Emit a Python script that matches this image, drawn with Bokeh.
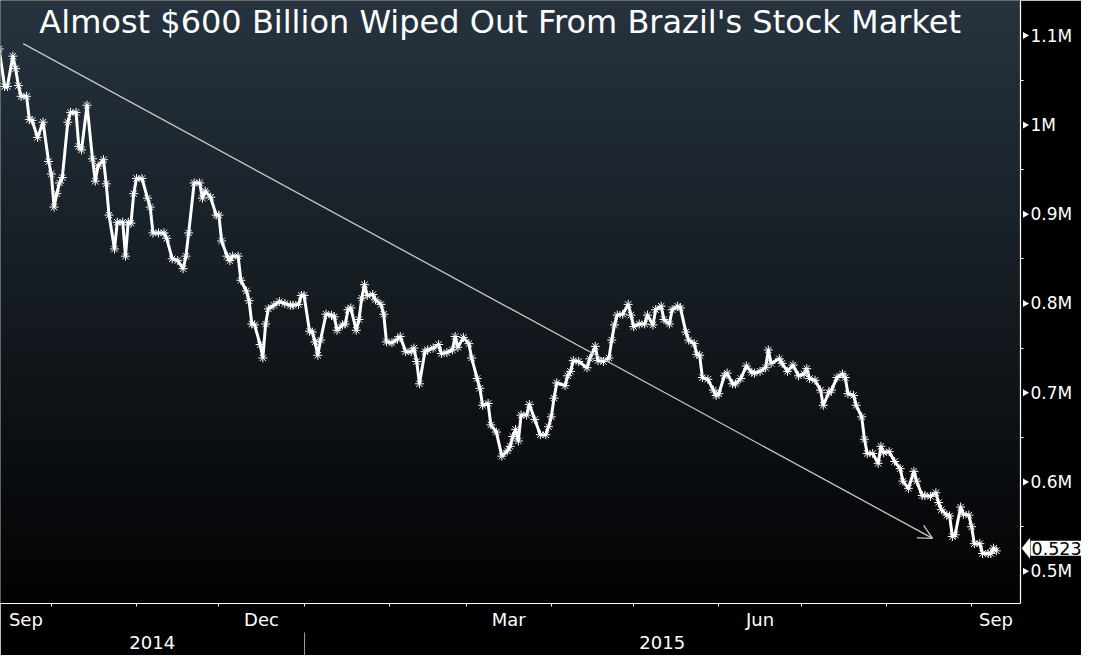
import numpy as np
import pandas as pd
from bokeh.plotting import figure
from bokeh.layouts import row
from bokeh.models import (Range1d, LinearAxis, FixedTicker, DatetimeTickFormatter,
                          CustomJSTickFormatter, Label, Arrow, OpenHead, LinearColorMapper)
from bokeh.embed import file_html
from bokeh.resources import INLINE

# ---------------- data ----------------
dates = [
    "2014-09-12", "2014-09-14", "2014-09-15", "2014-09-17", "2014-09-18", "2014-09-19",
    "2014-09-20", "2014-09-22", "2014-09-23", "2014-09-24", "2014-09-26", "2014-09-28",
    "2014-09-30", "2014-10-01", "2014-10-02", "2014-10-03", "2014-10-04", "2014-10-05",
    "2014-10-07", "2014-10-08", "2014-10-10", "2014-10-11", "2014-10-12", "2014-10-14",
    "2014-10-16", "2014-10-17", "2014-10-18", "2014-10-20", "2014-10-21", "2014-10-22",
    "2014-10-24", "2014-10-25", "2014-10-27", "2014-10-28", "2014-10-29", "2014-10-30",
    "2014-10-31", "2014-11-01", "2014-11-03", "2014-11-05", "2014-11-06", "2014-11-07",
    "2014-11-09", "2014-11-11", "2014-11-12", "2014-11-14", "2014-11-16", "2014-11-18",
    "2014-11-19", "2014-11-20", "2014-11-22", "2014-11-24", "2014-11-25", "2014-11-26",
    "2014-11-28", "2014-11-30", "2014-12-01", "2014-12-02", "2014-12-04", "2014-12-05",
    "2014-12-06", "2014-12-08", "2014-12-09", "2014-12-11", "2014-12-12", "2014-12-13",
    "2014-12-14",
    "2014-12-16", "2014-12-17", "2014-12-18", "2014-12-19", "2014-12-21", "2014-12-23",
    "2014-12-25", "2014-12-27", "2014-12-28", "2014-12-30", "2014-12-31", "2015-01-01",
    "2015-01-03", "2015-01-04", "2015-01-05", "2015-01-06", "2015-01-07", "2015-01-09",
    "2015-01-11", "2015-01-12", "2015-01-13", "2015-01-15", "2015-01-16", "2015-01-17",
    "2015-01-18", "2015-01-20", "2015-01-21", "2015-01-22", "2015-01-23", "2015-01-24",
    "2015-01-26", "2015-01-27", "2015-01-29", "2015-01-30", "2015-01-31", "2015-02-02",
    "2015-02-04", "2015-02-05", "2015-02-07", "2015-02-09", "2015-02-10", "2015-02-11",
    "2015-02-12", "2015-02-14", "2015-02-15", "2015-02-17", "2015-02-19", "2015-02-20",
    "2015-02-22", "2015-02-24", "2015-02-25", "2015-02-26", "2015-02-28", "2015-03-02",
    "2015-03-03", "2015-03-05", "2015-03-06", "2015-03-07", "2015-03-09", "2015-03-10",
    "2015-03-12", "2015-03-14",
    "2015-03-16", "2015-03-17", "2015-03-18", "2015-03-19", "2015-03-20", "2015-03-21",
    "2015-03-23", "2015-03-24", "2015-03-26", "2015-03-28", "2015-03-30", "2015-03-31",
    "2015-04-01", "2015-04-02", "2015-04-03", "2015-04-06", "2015-04-07", "2015-04-08",
    "2015-04-09", "2015-04-11", "2015-04-14", "2015-04-15", "2015-04-17", "2015-04-18",
    "2015-04-20", "2015-04-22", "2015-04-23", "2015-04-24", "2015-04-25", "2015-04-27",
    "2015-04-29", "2015-04-30", "2015-05-01", "2015-05-03", "2015-05-05", "2015-05-06",
    "2015-05-08", "2015-05-09", "2015-05-11", "2015-05-12", "2015-05-14", "2015-05-15",
    "2015-05-17", "2015-05-18", "2015-05-20", "2015-05-21", "2015-05-23", "2015-05-24",
    "2015-05-25", "2015-05-26", "2015-05-28", "2015-05-30", "2015-05-31", "2015-06-01",
    "2015-06-03", "2015-06-04", "2015-06-06", "2015-06-07", "2015-06-09", "2015-06-11",
    "2015-06-13", "2015-06-14", "2015-06-16", "2015-06-18", "2015-06-19",
    "2015-06-20", "2015-06-23", "2015-06-24", "2015-06-26", "2015-06-28", "2015-06-30",
    "2015-07-02", "2015-07-03", "2015-07-04", "2015-07-06", "2015-07-08", "2015-07-09",
    "2015-07-11", "2015-07-12", "2015-07-14", "2015-07-16", "2015-07-17", "2015-07-18",
    "2015-07-20", "2015-07-21", "2015-07-23", "2015-07-24", "2015-07-25", "2015-07-27",
    "2015-07-29", "2015-07-30", "2015-07-31", "2015-08-02", "2015-08-04", "2015-08-06",
    "2015-08-07", "2015-08-09", "2015-08-11", "2015-08-12", "2015-08-14", "2015-08-15",
    "2015-08-17", "2015-08-19", "2015-08-20", "2015-08-21", "2015-08-23", "2015-08-24",
    "2015-08-25", "2015-08-26", "2015-08-28", "2015-08-29", "2015-08-31", "2015-09-01",
    "2015-09-02", "2015-09-04", "2015-09-05", "2015-09-07", "2015-09-08", "2015-09-09",
    "2015-09-10",
]

market_cap_m = [
    1.085, 1.043, 1.043, 1.077, 1.063, 1.044,
    1.032, 1.032, 1.006, 1.005, 0.986, 1.003,
    0.959, 0.945, 0.908, 0.923, 0.935, 0.941,
    1.003, 1.014, 1.014, 0.976, 0.972, 1.022,
    0.962, 0.937, 0.954, 0.961, 0.934, 0.899,
    0.861, 0.891, 0.891, 0.853, 0.891, 0.890,
    0.923, 0.940, 0.940, 0.918, 0.908, 0.879,
    0.879, 0.879, 0.873, 0.850, 0.848, 0.839,
    0.853, 0.879, 0.935, 0.935, 0.918, 0.926,
    0.919, 0.899, 0.899, 0.870, 0.853, 0.848,
    0.853, 0.853, 0.826, 0.814, 0.803, 0.777,
    0.776,
    0.754, 0.739, 0.777, 0.794, 0.798, 0.802,
    0.800, 0.798, 0.798, 0.799, 0.809, 0.809,
    0.769, 0.768, 0.757, 0.742, 0.759, 0.788,
    0.787, 0.785, 0.770, 0.776, 0.777, 0.793,
    0.795, 0.770, 0.782, 0.806, 0.821, 0.809,
    0.810, 0.804, 0.799, 0.788, 0.757, 0.756,
    0.760, 0.763, 0.746, 0.746, 0.750, 0.735,
    0.710, 0.746, 0.748, 0.750, 0.754, 0.744,
    0.745, 0.748, 0.763, 0.751, 0.762, 0.755,
    0.739, 0.716, 0.705, 0.686, 0.688, 0.664,
    0.656, 0.629,
    0.635, 0.640, 0.651, 0.659, 0.646, 0.675,
    0.675, 0.687, 0.670, 0.653, 0.653, 0.662,
    0.673, 0.694, 0.711, 0.708, 0.719, 0.724,
    0.736, 0.735, 0.728, 0.738, 0.752, 0.736,
    0.735, 0.739, 0.759, 0.776, 0.787, 0.788,
    0.799, 0.787, 0.774, 0.777, 0.777, 0.787,
    0.776, 0.793, 0.797, 0.782, 0.777, 0.793,
    0.797, 0.795, 0.768, 0.759, 0.755, 0.743,
    0.742, 0.717, 0.715, 0.703, 0.697, 0.699,
    0.719, 0.722, 0.710, 0.710, 0.716, 0.730,
    0.723, 0.722, 0.724, 0.728, 0.748,
    0.733, 0.738, 0.733, 0.724, 0.731, 0.719,
    0.721, 0.727, 0.716, 0.714, 0.703, 0.686,
    0.700, 0.703, 0.717, 0.721, 0.717, 0.699,
    0.697, 0.686, 0.673, 0.648, 0.632, 0.632,
    0.621, 0.640, 0.633, 0.634, 0.623, 0.615,
    0.601, 0.593, 0.612, 0.601, 0.585, 0.585,
    0.584, 0.588, 0.577, 0.569, 0.563, 0.562,
    0.539, 0.541, 0.572, 0.564, 0.563, 0.550,
    0.531, 0.531, 0.520, 0.520, 0.520, 0.526,
    0.523,
]

title_text = "Almost $600 Billion Wiped Out From Brazil's Stock Market"
y_tick_values = [0.5, 0.6, 0.7, 0.8, 0.9, 1.0, 1.1]
labeled_months = ["2014-09-01", "2014-12-01", "2015-03-01", "2015-06-01", "2015-09-01"]
month_bounds = ["2014-10-01", "2014-11-01", "2014-12-01", "2015-01-01", "2015-02-01",
                "2015-03-01", "2015-04-01", "2015-05-01", "2015-06-01", "2015-07-01",
                "2015-08-01", "2015-09-01"]
year_bounds = ["2014-01-01", "2015-01-01", "2016-01-01"]
trend_start = ("2014-09-20 18:00", 1.091)
trend_end = ("2015-08-17 19:00", 0.537)

# ---------------- layout constants ----------------
DAY = 86400000.0


def ms(s):
    return pd.Timestamp(s).value / 1e6


X0 = ms("2014-10-01") - 18.5 * DAY
X1 = ms("2014-10-01") + 352.8 * DAY
Y0, Y1 = 0.464, 1.1393
FRAME_W, FRAME_H = 1020, 603
RIGHT_W, BOTTOM_H = 61, 52
FONT = "DejaVu Sans"

x_vals = pd.to_datetime(dates)

p = figure(frame_width=FRAME_W, frame_height=FRAME_H,
           x_range=Range1d(X0, X1), y_range=Range1d(Y0, Y1),
           x_axis_type=None, y_axis_type=None, output_backend="svg",
           toolbar_location=None, min_border_left=0, min_border_top=0,
           min_border_right=RIGHT_W, min_border_bottom=BOTTOM_H,
           background_fill_color="black", border_fill_color="black",
           outline_line_color=None)

# gradient background of the plotting area
top_rgb = np.array([38, 51, 62])
bot_rgb = np.array([2, 2, 3])
n = 256
palette = []
for i in range(n):
    t = i / (n - 1)
    c = bot_rgb + (top_rgb - bot_rgb) * t
    palette.append("#%02x%02x%02x" % tuple(int(round(v)) for v in c))
grad = np.repeat(np.arange(n).reshape(n, 1), 2, axis=1)
p.image(image=[grad], x=X0, y=Y0, dw=X1 - X0, dh=Y1 - Y0,
        color_mapper=LinearColorMapper(palette=palette, low=0, high=n - 1),
        level="image")

# trend arrow
p.add_layout(Arrow(end=OpenHead(size=14, line_color="#c8c8c8", line_width=1.3),
                   x_start=ms(trend_start[0]), y_start=trend_start[1],
                   x_end=ms(trend_end[0]), y_end=trend_end[1],
                   line_color="#c8c8c8", line_width=1.3))

# series
p.line(x=x_vals, y=market_cap_m, line_color="white", line_width=3)
p.scatter(x=x_vals, y=market_cap_m, marker="asterisk", size=9,
          line_color="white", line_width=1)

# title inside the frame
p.add_layout(Label(x=ms("2014-10-01") + 163.4 * DAY, y=1.1152, text=title_text,
                   text_align="center", text_baseline="middle", text_color="white",
                   text_font=FONT, text_font_size="32px"))

# right value axis
minor_y = [(a + b) / 2 for a, b in zip(y_tick_values[:-1], y_tick_values[1:])]
yaxis = LinearAxis(ticker=FixedTicker(ticks=y_tick_values, minor_ticks=minor_y),
                   formatter=CustomJSTickFormatter(code="return (Math.round(tick*10)/10) + 'M';"))
yaxis.axis_line_color = "white"
yaxis.axis_line_width = 1.2
yaxis.major_tick_line_color = None
yaxis.major_tick_in = 0
yaxis.major_tick_out = 7
yaxis.minor_tick_line_color = "white"
yaxis.minor_tick_in = 0
yaxis.minor_tick_out = 3
yaxis.major_label_standoff = 3
yaxis.major_label_text_color = "white"
yaxis.major_label_text_font = FONT
yaxis.major_label_text_font_size = "17px"
p.add_layout(yaxis, "right")

# month axis: ticks at month boundaries, labels centred in the visible month
bounds_ms = [ms(b) for b in month_bounds]
month_mids = []
for m in labeled_months:
    start = pd.Timestamp(m)
    end = start + pd.offsets.MonthBegin(1)
    a = max(ms(start), X0)
    b = min(ms(end), X1)
    month_mids.append((a + b) / 2)
fmt_keys = ["microseconds", "milliseconds", "seconds", "minsec", "minutes",
            "hourmin", "hours", "days", "months", "years"]
month_fmt = DatetimeTickFormatter(**{k: "%b" for k in fmt_keys})
xaxis_m = LinearAxis(ticker=FixedTicker(ticks=month_mids, minor_ticks=bounds_ms),
                     formatter=month_fmt)
xaxis_m.axis_line_color = "white"
xaxis_m.axis_line_width = 1.2
xaxis_m.major_tick_line_color = None
xaxis_m.major_tick_in = 0
xaxis_m.major_tick_out = 0
xaxis_m.minor_tick_line_color = "white"
xaxis_m.minor_tick_in = 0
xaxis_m.minor_tick_out = 3
xaxis_m.major_label_standoff = 2
xaxis_m.major_label_text_color = "white"
xaxis_m.major_label_text_font = FONT
xaxis_m.major_label_text_font_size = "18px"
p.add_layout(xaxis_m, "below")

# year axis (divider drawn as the minor tick at the year boundary)
year_mids = []
for a_s, b_s in zip(year_bounds[:-1], year_bounds[1:]):
    a = max(ms(a_s), X0)
    b = min(ms(b_s), X1)
    year_mids.append((a + b) / 2)
inner_year_bounds = [ms(b) for b in year_bounds if X0 < ms(b) < X1]
year_fmt = DatetimeTickFormatter(**{k: "%Y" for k in fmt_keys})
xaxis_y = LinearAxis(ticker=FixedTicker(ticks=year_mids, minor_ticks=inner_year_bounds),
                     formatter=year_fmt)
xaxis_y.axis_line_color = None
xaxis_y.major_tick_line_color = None
xaxis_y.major_tick_in = 0
xaxis_y.major_tick_out = 0
xaxis_y.minor_tick_line_color = "#9a9a9a"
xaxis_y.minor_tick_in = 0
xaxis_y.minor_tick_out = 25
xaxis_y.major_label_standoff = -22
xaxis_y.major_label_text_color = "white"
xaxis_y.major_label_text_font = FONT
xaxis_y.major_label_text_font_size = "18px"
p.add_layout(xaxis_y, "below")

# overlay strip on top of the right axis: tick arrows and the last-value tag
p2 = figure(frame_width=RIGHT_W, frame_height=FRAME_H,
            x_range=Range1d(0, RIGHT_W), y_range=p.y_range,
            x_axis_type=None, y_axis_type=None, output_backend="svg",
            toolbar_location=None, min_border_left=0, min_border_top=0,
            min_border_right=0, min_border_bottom=0,
            background_fill_alpha=0, border_fill_alpha=0, outline_line_color=None)
p2.margin = (0, 0, 0, -RIGHT_W)
p2.scatter(x=[4.5] * len(y_tick_values), y=y_tick_values, marker="triangle",
           angle=-np.pi / 2, size=7, fill_color="white", line_color=None)

last_val = market_cap_m[-1]
px = (Y1 - Y0) / FRAME_H
tag_mid = last_val + 2.5 * px
half_h = 10.5 * px
p2.patch(x=[1.2, 9.5, 9.5], y=[tag_mid, tag_mid + half_h, tag_mid - half_h],
         fill_color="white", line_color=None)
p2.add_layout(Label(x=10, y=tag_mid, text="%.3f" % last_val,
                    text_color="black", text_font=FONT, text_font_size="17.5px",
                    text_align="left", text_baseline="middle",
                    background_fill_color="white", padding=1))

layout = row(p, p2)
open("out.html", "w").write(file_html(layout, INLINE))
